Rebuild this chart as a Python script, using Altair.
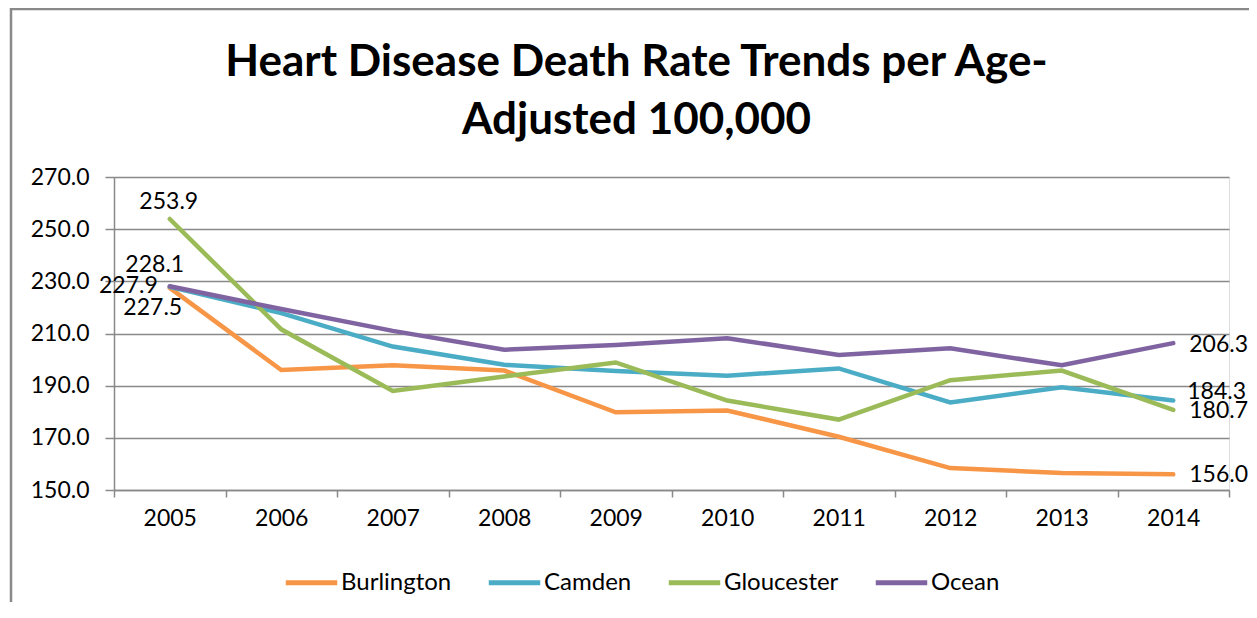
import altair as alt
import pandas as pd

years = ["2005", "2006", "2007", "2008", "2009", "2010", "2011", "2012", "2013", "2014"]
counties = ["Burlington", "Camden", "Gloucester", "Ocean"]
burlington = [227.5, 196.0, 197.8, 195.8, 179.8, 180.5, 170.4, 158.4, 156.5, 156.0]
camden = [227.9, 217.8, 205.0, 198.0, 195.6, 193.8, 196.6, 183.6, 189.4, 184.3]
gloucester = [253.9, 211.6, 188.0, 193.5, 198.9, 184.3, 177.0, 192.1, 195.8, 180.7]
ocean = [228.1, 219.4, 211.0, 203.8, 205.6, 208.2, 201.8, 204.3, 197.8, 206.3]
colors = ["#F79646", "#4BACC6", "#9BBB59", "#8064A2"]
y_ticks = [150, 170, 190, 210, 230, 250, 270]
title_lines = ["Heart Disease Death Rate Trends per Age-", "Adjusted 100,000"]

rows = []
for name, vals in zip(counties, [burlington, camden, gloucester, ocean]):
    for yr, v in zip(years, vals):
        rows.append({"Year": yr, "County": name, "Rate": v})
df = pd.DataFrame(rows)

FONT = "Lato"
GRAY = "#898989"

x_enc = alt.X(
    "Year:O",
    sort=years,
    scale=alt.Scale(type="band", paddingInner=0, paddingOuter=0),
    axis=alt.Axis(
        title=None, labelAngle=0, tickBand="extent", grid=False,
        domainColor=GRAY, domainWidth=1.5, tickColor=GRAY, tickWidth=1.5, tickSize=7,
        labelFont=FONT, labelFontSize=23, labelColor="black", labelPadding=10,
    ),
)
y_enc = alt.Y(
    "Rate:Q",
    scale=alt.Scale(domain=[150, 270], nice=False, zero=False),
    axis=alt.Axis(
        title=None, values=y_ticks, format=".1f", grid=True,
        gridColor=GRAY, gridWidth=1.5, domainColor=GRAY, domainWidth=1.5,
        tickColor=GRAY, tickWidth=1.5, tickSize=9,
        labelFont=FONT, labelFontSize=23, labelColor="black", labelPadding=16,
    ),
)

lines = alt.Chart(df).mark_line(strokeWidth=4.5, strokeCap="round").encode(
    x=x_enc,
    y=y_enc,
    color=alt.Color(
        "County:N",
        scale=alt.Scale(domain=counties, range=colors),
        legend=alt.Legend(
            title=None, orient="none", legendX=169, legendY=377, direction="horizontal",
            symbolType="stroke", symbolStrokeWidth=5, symbolSize=2650,
            labelFont=FONT, labelFontSize=24, labelColor="black", labelOffset=1,
            columnPadding=26, padding=0, labelLimit=300,
        ),
    ),
    order=alt.Order("County:N"),
)

label_specs = [
    ("Gloucester", "2005", "center", -1, -17),
    ("Ocean", "2005", "center", -15, -21),
    ("Camden", "2005", "right", -12, -1),
    ("Burlington", "2005", "center", -17, 20),
    ("Ocean", "2014", "left", 16, 2),
    ("Camden", "2014", "left", 14, -9),
    ("Gloucester", "2014", "left", 16, 1),
    ("Burlington", "2014", "left", 16, 1),
]

layers = []
for county, yr, align, dx, dy in label_specs:
    layers.append(
        alt.Chart(df)
        .transform_filter((alt.datum.County == county) & (alt.datum.Year == yr))
        .mark_text(align=align, baseline="middle", dx=dx, dy=dy, font=FONT, fontSize=23, color="black")
        .encode(x=alt.X("Year:O", sort=years), y=alt.Y("Rate:Q"), text=alt.Text("Rate:Q", format=".1f"))
    )

border_df = pd.DataFrame({"k": [0]})
left_border = alt.Chart(border_df).mark_rule(color=GRAY, strokeWidth=2.5).encode(
    x=alt.value(-103), y=alt.value(-169), y2=alt.value(460)
)
top_border = alt.Chart(border_df).mark_rule(color=GRAY, strokeWidth=2.5).encode(
    x=alt.value(-104), x2=alt.value(1160), y=alt.value(-168)
)

chart = alt.layer(lines, *layers, left_border, top_border).properties(
    width=1115,
    height=313,
    autosize=alt.AutoSizeParams(type="none"),
    padding={"left": 106, "top": 169, "right": 20, "bottom": 112},
    title=alt.TitleParams(
        title_lines, font=FONT, fontSize=44, fontWeight="bold", color="black",
        anchor="middle", frame="group", dx=-35, dy=173, offset=37, lineHeight=58,
    ),
).configure_view(strokeWidth=0).configure(background="white")

chart.save("out.html", embed_options={"renderer": "svg", "actions": False})
